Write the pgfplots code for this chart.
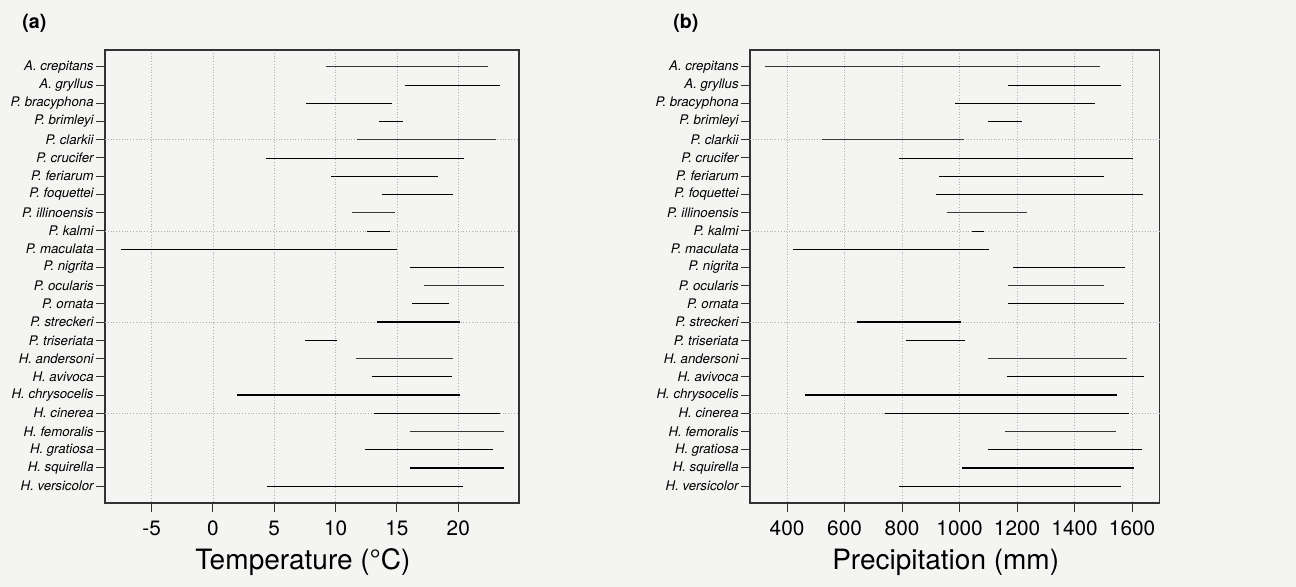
\documentclass[border=0pt]{standalone}
\usepackage{fontspec}
\setmainfont{TeX Gyre Heros}
\usepackage{pgfplots}
\pgfplotsset{compat=1.18}

\definecolor{segc}{RGB}{55,55,55}
\definecolor{boxc}{RGB}{50,50,50}
\definecolor{gridc}{RGB}{175,175,175}
\definecolor{bgc}{RGB}{244,244,242}

\pgfplotsset{
  rangeplot/.style={
    scale only axis,
    height=226.5pt,
    y dir=reverse,
    ymin=0.08, ymax=24.92,
    ytick={1,...,24},
    yticklabels={A. crepitans, A. gryllus, P. bracyphona, P. brimleyi, P. clarkii, P. crucifer, P. feriarum, P. foquettei, P. illinoensis, P. kalmi, P. maculata, P. nigrita, P. ocularis, P. ornata, P. streckeri, P. triseriata, H. andersoni, H. avivoca, H. chrysocelis, H. cinerea, H. femoralis, H. gratiosa, H. squirella, H. versicolor},
    yticklabel style={font=\fontsize{6.6}{7}\selectfont\itshape, inner sep=1pt},
    xticklabel style={font=\fontsize{10.4}{12}\selectfont, yshift=-1pt},
    /pgf/number format/assume math mode=true,
    /pgf/number format/1000 sep={},
    tick align=outside,
    tick pos=left,
    major tick length=4.5pt,
    tick style={boxc, line width=0.5pt},
    axis line style={boxc, line width=0.6pt},
    xmajorgrids,
    major grid style={gridc, densely dotted, line width=0.4pt},
    extra y ticks={5,10,15,20},
    extra y tick labels={},
    extra y tick style={ymajorgrids, major tick length=0pt},
    xlabel style={font=\fontsize{14}{16}\selectfont, at={(axis description cs:0.478,0)}, anchor=base, yshift=-33pt},
    cycle list={{segc, solid, line width=0.6pt, mark=none}},
  }
}

\begin{document}
\begin{tikzpicture}
\path[use as bounding box, fill=bgc] (0pt,0pt) rectangle (648pt,293.5pt);
\node[anchor=base west, font=\fontsize{9.8}{11}\selectfont\bfseries, inner sep=0pt] at (11pt,279pt) {(a)};
\node[anchor=base west, font=\fontsize{9.8}{11}\selectfont\bfseries, inner sep=0pt] at (336.5pt,279pt) {(b)};

\begin{axis}[rangeplot, at={(52.5pt,42pt)}, anchor=south west, width=207pt,
  xmin=-8.8, xmax=24.95, xtick={-5,0,5,10,15,20},
  xlabel={Temperature (°C)}]
\addplot coordinates {(9.18,1) (22.44,1)};
\addplot coordinates {(15.62,2) (23.42,2)};
\addplot coordinates {(7.61,3) (14.56,3)};
\addplot coordinates {(13.56,4) (15.46,4)};
\addplot coordinates {(11.77,5) (23.09,5)};
\addplot coordinates {(4.35,6) (20.43,6)};
\addplot coordinates {(9.65,7) (18.37,7)};
\addplot coordinates {(13.77,8) (19.53,8)};
\addplot coordinates {(11.36,9) (14.86,9)};
\addplot coordinates {(12.55,10) (14.46,10)};
\addplot coordinates {(-7.52,11) (15.03,11)};
\addplot coordinates {(16.03,12) (23.72,12)};
\addplot coordinates {(17.17,13) (23.72,13)};
\addplot coordinates {(16.25,14) (19.21,14)};
\addplot coordinates {(13.34,15) (20.13,15)};
\addplot coordinates {(7.53,16) (10.14,16)};
\addplot coordinates {(11.63,17) (19.53,17)};
\addplot coordinates {(12.93,18) (19.45,18)};
\addplot coordinates {(1.93,19) (20.13,19)};
\addplot coordinates {(13.12,20) (23.42,20)};
\addplot coordinates {(16.03,21) (23.72,21)};
\addplot coordinates {(12.36,22) (22.80,22)};
\addplot coordinates {(16.03,23) (23.72,23)};
\addplot coordinates {(4.43,24) (20.41,24)};
\end{axis}

\begin{axis}[rangeplot, at={(375pt,42pt)}, anchor=south west, width=204.7pt,
  xmin=271, xmax=1695, xtick={400,600,800,1000,1200,1400,1600},
  xlabel={Precipitation (mm)}]
\addplot coordinates {(324.6,1) (1490.0,1)};
\addplot coordinates {(1167.5,2) (1560.6,2)};
\addplot coordinates {(984.3,3) (1472.5,3)};
\addplot coordinates {(1099.0,4) (1218.6,4)};
\addplot coordinates {(522.9,5) (1016.8,5)};
\addplot coordinates {(788.4,6) (1602.3,6)};
\addplot coordinates {(929.9,7) (1503.8,7)};
\addplot coordinates {(917.1,8) (1637.1,8)};
\addplot coordinates {(957.7,9) (1235.9,9)};
\addplot coordinates {(1043.5,10) (1084.1,10)};
\addplot coordinates {(419.7,11) (1103.8,11)};
\addplot coordinates {(1187.2,12) (1575.7,12)};
\addplot coordinates {(1168.7,13) (1502.6,13)};
\addplot coordinates {(1168.7,14) (1571.0,14)};
\addplot coordinates {(642.3,15) (1004.1,15)};
\addplot coordinates {(812.8,16) (1019.1,16)};
\addplot coordinates {(1100.3,17) (1581.4,17)};
\addplot coordinates {(1165.2,18) (1642.9,18)};
\addplot coordinates {(463.8,19) (1547.8,19)};
\addplot coordinates {(742.0,20) (1588.4,20)};
\addplot coordinates {(1157.1,21) (1543.2,21)};
\addplot coordinates {(1100.3,22) (1634.8,22)};
\addplot coordinates {(1008.7,23) (1607.0,23)};
\addplot coordinates {(790.7,24) (1560.6,24)};
\end{axis}
\end{tikzpicture}
\end{document}
